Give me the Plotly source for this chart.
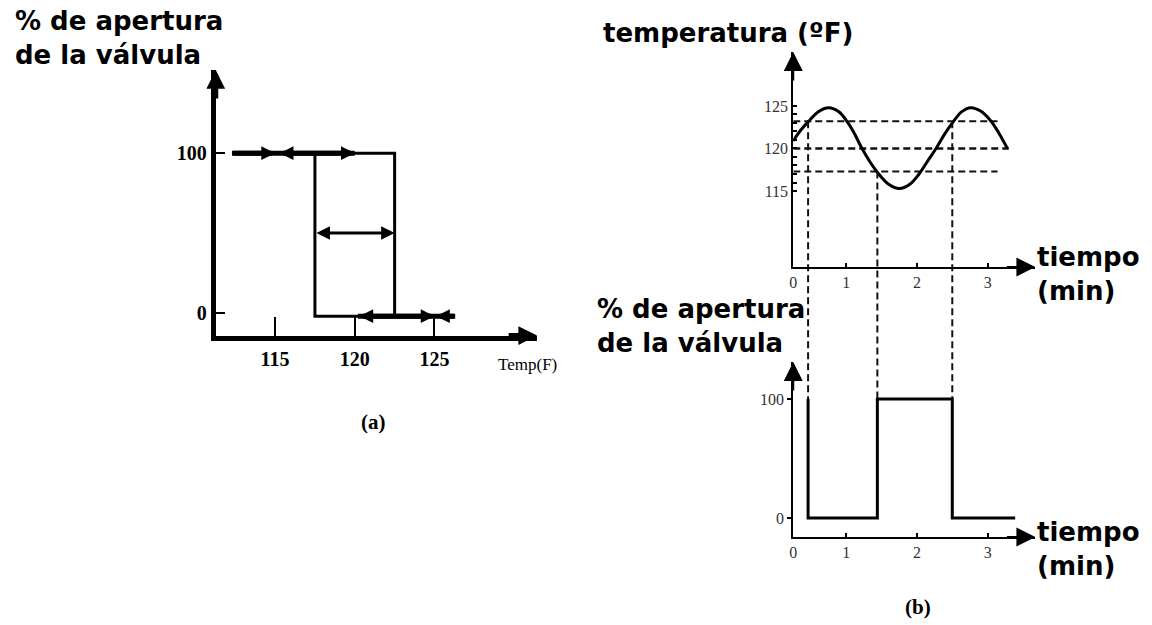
import plotly.graph_objects as go

W, H = 1152, 625

# ---------------- data : panel (a) on/off controller with dead band ----------------
temp_ticks_a = [115, 120, 125]
valve_ticks_a = [0, 100]
band_low_a, band_high_a = 117.5, 122.5
rect_bottom_a = -2
open_level, half_level, closed_level = 100, 50, -2
# thick arrows at valve 100 %
top_tail, top_mid, top_head = 112.3, 115.0, 120.0
# thick arrows at valve 0 %
bot_left, bot_mid, bot_tail = 120.2, 125.0, 126.3

# ---------------- data : panel (b) temperature vs time ----------------
t_axis_start = 0.25
t_curve = [0.25, 0.36, 0.48, 0.60, 0.75, 0.90, 1.00, 1.10, 1.21, 1.33, 1.45, 1.60, 1.75,
           1.90, 2.03, 2.15, 2.27, 2.40, 2.51, 2.63, 2.76, 2.90, 3.04, 3.16, 3.28]
temp_curve = [120.9, 122.2, 123.3, 124.3, 124.8, 124.3, 123.3, 122.0, 120.2, 118.5, 117.1,
              115.8, 115.3, 115.8, 117.0, 118.5, 120.0, 121.8, 123.1, 124.3, 124.8, 124.4,
              123.3, 121.8, 120.0]
temp_ticks_b = [115, 120, 125]
temp_minor_b = list(range(115, 126))
time_ticks = [1, 2, 3]
set_point = 120.0
upper_limit, lower_limit = 123.2, 117.3
limit_line_end = 3.14
set_line_end = 3.30

# valve opening vs time
switch_times = [0.46, 1.44, 2.50]
switch_temps = [upper_limit, lower_limit, upper_limit]
valve_t = [0.46, 1.44, 2.50, 3.39]
valve_v = [100, 0, 100, 0]
valve_ticks_b = [0, 100]

# ---------------- layout helpers (pixel -> paper) ----------------
def px(x):
    return x / W

def py(y):
    return 1 - y / H

ax_a = dict(x0=212.5, x1=535, y0=335.5, y1=70, xr=[111.28, 131.44], yr=[-14.06, 152])
ax_b1 = dict(x0=792, x1=1035, y0=267, y1=52, xr=[t_axis_start, 3.676], yr=[106.06, 131.35])
ax_b2 = dict(x0=792, x1=1035, y0=537, y1=362, xr=[t_axis_start, 3.676], yr=[-16.0, 131.1])


def val_to_paper_y(v, a):
    frac = (v - a["yr"][0]) / (a["yr"][1] - a["yr"][0])
    return py(a["y0"]) + frac * (py(a["y1"]) - py(a["y0"]))


fig = go.Figure()
BLK = "black"

# panel (a) rectangle
fig.add_trace(go.Scatter(
    x=[band_low_a, band_high_a, band_high_a, band_low_a, band_low_a],
    y=[open_level, open_level, rect_bottom_a, rect_bottom_a, open_level],
    mode="lines", line=dict(color=BLK, width=3), xaxis="x", yaxis="y",
    hoverinfo="skip"))
# thick lines under the arrows
fig.add_trace(go.Scatter(x=[top_tail, top_head], y=[open_level, open_level], mode="lines",
                         line=dict(color=BLK, width=5), xaxis="x", yaxis="y", hoverinfo="skip"))
fig.add_trace(go.Scatter(x=[bot_left, bot_tail], y=[closed_level, closed_level], mode="lines",
                         line=dict(color=BLK, width=5), xaxis="x", yaxis="y", hoverinfo="skip"))

# panel (b) top: dashed limit lines and temperature curve
for lvl, end, wdt in [(upper_limit, limit_line_end, 2), (set_point, set_line_end, 2.5),
                      (lower_limit, limit_line_end, 2)]:
    fig.add_trace(go.Scatter(x=[t_axis_start, end], y=[lvl, lvl], mode="lines",
                             line=dict(color="#111", width=wdt, dash="7px,4px"),
                             xaxis="x2", yaxis="y2", hoverinfo="skip"))
fig.add_trace(go.Scatter(x=t_curve, y=temp_curve, mode="lines",
                         line=dict(color=BLK, width=3, shape="spline", smoothing=1.0),
                         xaxis="x2", yaxis="y2", hoverinfo="skip"))

# panel (b) bottom: valve step
fig.add_trace(go.Scatter(x=valve_t, y=valve_v, mode="lines",
                         line=dict(color=BLK, width=3, shape="vh"),
                         xaxis="x3", yaxis="y3", hoverinfo="skip"))

# vertical projection lines
shapes = []
for ts, tv in zip(switch_times, switch_temps):
    shapes.append(dict(type="line", xref="x2", yref="paper", x0=ts, x1=ts,
                       y0=val_to_paper_y(tv, ax_b1), y1=val_to_paper_y(100, ax_b2),
                       line=dict(color="#111", width=2, dash="7px,4px")))

common = dict(showgrid=False, zeroline=False, showline=True, linecolor=BLK, mirror=False)
serif_bold = dict(family="Liberation Serif", size=20, color=BLK, weight="bold")
serif = dict(family="Liberation Serif", size=16, color="#333")

fig.update_layout(
    width=W, height=H, margin=dict(l=0, r=0, t=0, b=0),
    paper_bgcolor="white", plot_bgcolor="rgba(0,0,0,0)", showlegend=False,
    shapes=shapes,
    xaxis=dict(domain=[px(ax_a["x0"]), px(ax_a["x1"])], range=ax_a["xr"], anchor="y",
               tickvals=temp_ticks_a, ticks="inside", ticklen=19, tickwidth=2, tickcolor=BLK,
               linewidth=5, tickfont=serif_bold, ticklabelstandoff=1, **common),
    yaxis=dict(domain=[py(ax_a["y0"]), py(ax_a["y1"])], range=ax_a["yr"], anchor="x",
               tickvals=valve_ticks_a, ticks="inside", ticklen=9, tickwidth=2, tickcolor=BLK,
               linewidth=5, tickfont=serif_bold, **common),
    xaxis2=dict(domain=[px(ax_b1["x0"]), px(ax_b1["x1"])], range=ax_b1["xr"], anchor="y2",
                tickvals=[t_axis_start] + time_ticks, ticktext=["0", "1", "2", "3"],
                ticks="inside", ticklen=4, tickwidth=2, tickcolor=BLK,
                linewidth=2, tickfont=serif, **common),
    yaxis2=dict(domain=[py(ax_b1["y0"]), py(ax_b1["y1"])], range=ax_b1["yr"], anchor="x2",
                tickvals=temp_minor_b,
                ticktext=[str(v) if v in temp_ticks_b else "" for v in temp_minor_b],
                ticks="inside", ticklen=4, tickwidth=1.5, tickcolor=BLK,
                linewidth=2, tickfont=serif, **common),
    xaxis3=dict(domain=[px(ax_b2["x0"]), px(ax_b2["x1"])], range=ax_b2["xr"], anchor="y3",
                tickvals=[t_axis_start] + time_ticks, ticktext=["0", "1", "2", "3"],
                ticks="inside", ticklen=4, tickwidth=2, tickcolor=BLK,
                linewidth=2, tickfont=serif, **common),
    yaxis3=dict(domain=[py(ax_b2["y0"]), py(ax_b2["y1"])], range=ax_b2["yr"], anchor="x3",
                tickvals=valve_ticks_b, ticks="outside", ticklen=4, tickwidth=1.5, tickcolor=BLK,
                linewidth=2, tickfont=serif, **common),
)

ann = []
title_font = dict(family="DejaVu Sans", size=26, color=BLK)


def text(x, y, s, font, xanchor="left", yanchor="middle", bg=None):
    d = dict(x=px(x), y=py(y), xref="paper", yref="paper", text=s, showarrow=False,
             xanchor=xanchor, yanchor=yanchor, font=font, align="left")
    if bg:
        d["bgcolor"] = bg
    ann.append(d)


text(9, 38, "<b>% de apertura<br>de la válvula</b>", title_font)
text(599, 33, "<b>temperatura (ºF)</b>", title_font)
text(593, 326, "<b>% de apertura<br>de la válvula</b>", title_font, bg="white")
text(1035, 274, "<b>tiempo<br>(min)</b>", title_font)
text(1035, 549, "<b>tiempo<br>(min)</b>", title_font)
text(525, 364, "Temp(F)", dict(family="Liberation Serif", size=17, color=BLK), xanchor="center")
text(371, 422, "<b>(a)</b>", dict(family="Liberation Serif", size=21, color=BLK), xanchor="center")
text(917, 607, "<b>(b)</b>", dict(family="Liberation Serif", size=21, color=BLK), xanchor="center")


def axis_arrows(xa, ya, lw, size):
    ann.append(dict(xref=f"{xa} domain", yref=f"{ya} domain", x=1, y=0, ax=-30, ay=0,
                    showarrow=True, arrowhead=2, arrowsize=size, arrowwidth=lw,
                    arrowcolor=BLK, text=""))
    ann.append(dict(xref=f"{xa} domain", yref=f"{ya} domain", x=0, y=1, ax=0, ay=30,
                    showarrow=True, arrowhead=2, arrowsize=size, arrowwidth=lw,
                    arrowcolor=BLK, text=""))


axis_arrows("x", "y", 5, 0.75)
axis_arrows("x2", "y2", 2, 1.9)
axis_arrows("x3", "y3", 2, 1.9)


def data_arrow(x_head, y_head, x_tail, y_tail, lw, size, both=False):
    d = dict(xref="x", yref="y", axref="x", ayref="y", x=x_head, y=y_head, ax=x_tail,
             ay=y_tail, showarrow=True, arrowhead=2, arrowsize=size, arrowwidth=lw,
             arrowcolor=BLK, text="")
    if both:
        d.update(arrowside="end+start", startarrowhead=2, startarrowsize=size)
    ann.append(d)


data_arrow(top_mid, open_level, top_tail, open_level, 5, 0.55)
data_arrow(top_head, open_level, top_mid + 0.2, open_level, 5, 0.55, both=True)
data_arrow(band_high_a, half_level, band_low_a, half_level, 3, 0.9, both=True)
data_arrow(bot_mid, closed_level, bot_left, closed_level, 5, 0.55, both=True)
data_arrow(bot_mid + 0.1, closed_level, bot_tail, closed_level, 5, 0.55)

fig.update_layout(annotations=ann)
fig.write_html("out.html")
